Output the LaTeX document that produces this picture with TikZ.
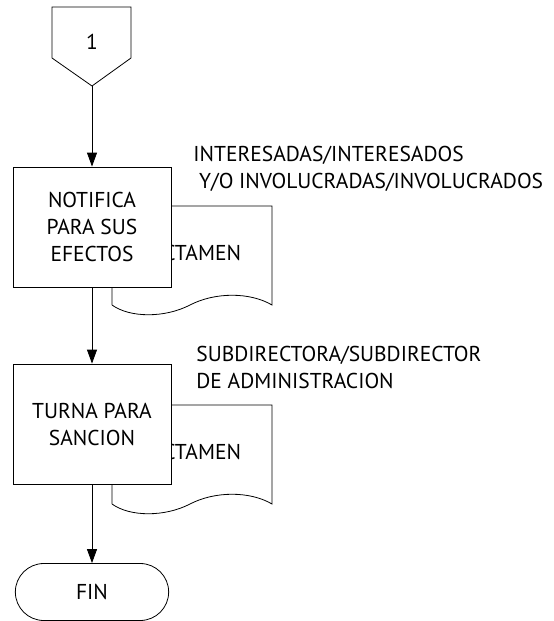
\documentclass[tikz,border=0pt]{standalone}
\usepackage{fontspec}
\setmainfont{PT Sans}
\usetikzlibrary{arrows.meta, shapes.misc}

\tikzset{
	proc/.style={draw, fill=white, minimum width=158pt, minimum height=120pt, align=center, inner sep=0pt},
	flecha/.style={-{Triangle[length=14pt, width=10pt]}},
	rol/.style={anchor=base west, align=left, inner sep=0pt},
}

\begin{document}
\begin{tikzpicture}[x=1pt, y=-1pt, line width=0.8pt, font=\fontsize{21.5}{27}\selectfont]

	\useasboundingbox (0,0) rectangle (554,621);

	% conector de pagina
	\draw (52,7) -- (131,7) -- (131,58) -- (92,86) -- (52,58) -- cycle;
	\node (uno) at (92,42) {1};
	\coordinate (unopunta) at (92,86);

	% documentos
	\draw (112,305) -- (112,206) -- (272,206) -- (272,305)
		.. controls (250,292) and (215,292) .. (190,305)
		.. controls (165,318) and (130,318) .. (112,305);
	\node (dict1) at (192,253) {DICTAMEN};

	\draw (112,504) -- (112,405) -- (272,405) -- (272,504)
		.. controls (250,491) and (215,491) .. (190,504)
		.. controls (165,517) and (130,517) .. (112,504);
	\node (dict2) at (192,452) {DICTAMEN};

	% actividades
	\node[proc] (notifica) at (92,227) {NOTIFICA\\PARA SUS\\EFECTOS};
	\node[proc] (turna) at (92,424) {TURNA PARA\\SANCION};

	\node[rol] (resp1) at (193,188) {INTERESADAS/INTERESADOS\\\ Y/O INVOLUCRADAS/INVOLUCRADOS};
	\node[rol] (resp2) at (196,388) {SUBDIRECTORA/SUBDIRECTOR\\DE ADMINISTRACION};

	\node[draw, rounded rectangle, minimum width=160pt, minimum height=57pt] (fin) at (92,592) {FIN};

	\draw[flecha] (unopunta) -- (notifica.north);
	\draw[flecha] (notifica.south) -- (turna.north);
	\draw[flecha] (turna.south) -- (fin.north);

\end{tikzpicture}
\end{document}
